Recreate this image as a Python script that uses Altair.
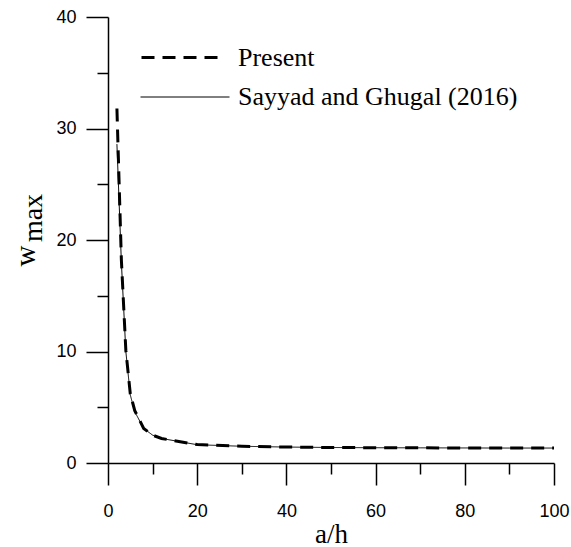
import altair as alt
import pandas as pd

# a/h values and w_max values
present_ah = [2, 3, 4, 5, 6, 8, 10, 12, 20, 30, 40, 50, 60, 70, 80, 90, 100]
present_w = [31.8, 18.2, 10.1, 6.2, 4.7, 3.1, 2.5, 2.2, 1.65, 1.5, 1.43, 1.39, 1.37, 1.36, 1.35, 1.34, 1.34]

sayyad_ah = [2, 3, 4, 5, 6, 8, 10, 12, 20, 30, 40, 50, 60, 70, 80, 90, 100]
sayyad_w = [28.6, 18.0, 10.0, 6.1, 4.6, 3.1, 2.5, 2.2, 1.64, 1.5, 1.43, 1.39, 1.37, 1.36, 1.35, 1.34, 1.34]

series_names = ["Present", "Sayyad and Ghugal (2016)"]
x_ticks = [0, 10, 20, 30, 40, 50, 60, 70, 80, 90, 100]
y_ticks = [0, 5, 10, 15, 20, 25, 30, 35, 40]
y_title_main = ["w"]
y_title_sub = ["max"]
x_title = "a/h"

rows = []
for a, w in zip(present_ah, present_w):
    rows.append({"series": series_names[0], "series_b": series_names[0], "a_h": a, "w": w})
for a, w in zip(sayyad_ah, sayyad_w):
    rows.append({"series": series_names[1], "series_b": series_names[1], "a_h": a, "w": w})
df = pd.DataFrame(rows)

common_axis = dict(
    grid=False,
    labelFlush=False,
    labelOverlap=False,
    labelFont="Liberation Sans",
    labelFontSize=18,
    labelColor="black",
    domainColor="black",
    domainWidth=1.5,
    tickColor="black",
    tickWidth=1.5,
)

x_axis = alt.Axis(
    values=x_ticks,
    labelExpr="datum.value % 20 === 0 ? datum.label : ''",
    tickSize={"condition": {"test": "datum.value % 20 === 0", "value": 22}, "value": 11},
    title=x_title,
    titleFont="Liberation Serif",
    titleFontSize=27,
    titleFontWeight="normal",
    titleColor="black",
    titlePadding=1,
    labelPadding=17,
    **common_axis,
)
y_axis = alt.Axis(
    values=y_ticks,
    labelExpr="datum.value % 10 === 0 ? datum.label : ''",
    tickSize={"condition": {"test": "datum.value % 10 === 0", "value": 22}, "value": 11},
    title=None,
    labelPadding=10,
    **common_axis,
)

legend_common = dict(
    title=None,
    orient="none",
    legendX=32,
    symbolType="stroke",
    symbolStrokeColor="black",
    labelFont="Liberation Serif",
    labelFontSize=26,
    labelColor="black",
    padding=0,
    labelLimit=400,
)

lines = alt.Chart(df).mark_line().encode(
    x=alt.X("a_h:Q", scale=alt.Scale(domain=[0, 100], nice=False), axis=x_axis),
    y=alt.Y("w:Q", scale=alt.Scale(domain=[0, 40], nice=False), axis=y_axis),
    strokeDash=alt.StrokeDash(
        "series:N",
        scale=alt.Scale(domain=series_names, range=[[13, 8], [1, 0]]),
        legend=alt.Legend(
            values=[series_names[0]],
            legendY=-1,
            symbolSize=6400,
            symbolStrokeWidth=3,
            labelOffset=15,
            **legend_common,
        ),
    ),
    color=alt.Color(
        "series_b:N",
        scale=alt.Scale(domain=series_names[::-1], range=["black", "black"]),
        legend=alt.Legend(
            values=[series_names[1]],
            legendY=35,
            symbolSize=7921,
            symbolStrokeWidth=1,
            labelOffset=8,
            **legend_common,
        ),
    ),
    strokeWidth=alt.StrokeWidth(
        "series:N",
        scale=alt.Scale(domain=series_names, range=[3, 1]),
        legend=None,
    ),
    order=alt.Order("a_h:Q"),
)

w_text = alt.Chart(pd.DataFrame({"t": y_title_main})).mark_text(
    angle=270, font="Liberation Serif", fontSize=29, baseline="alphabetic", align="center", color="black"
).encode(x=alt.value(-73), y=alt.value(239), text="t:N")

max_text = alt.Chart(pd.DataFrame({"t": y_title_sub})).mark_text(
    angle=270, font="Liberation Serif", fontSize=28, baseline="alphabetic", align="center", color="black"
).encode(x=alt.value(-66), y=alt.value(201), text="t:N")

chart = alt.layer(lines, w_text, max_text).properties(
    width=446,
    height=446,
    autosize=alt.AutoSizeParams(type="none"),
    padding={"left": 108, "top": 17, "right": 17, "bottom": 84},
    background="white",
).configure_view(stroke=None)

chart.save("out.html", embed_options={"renderer": "svg", "actions": False})
